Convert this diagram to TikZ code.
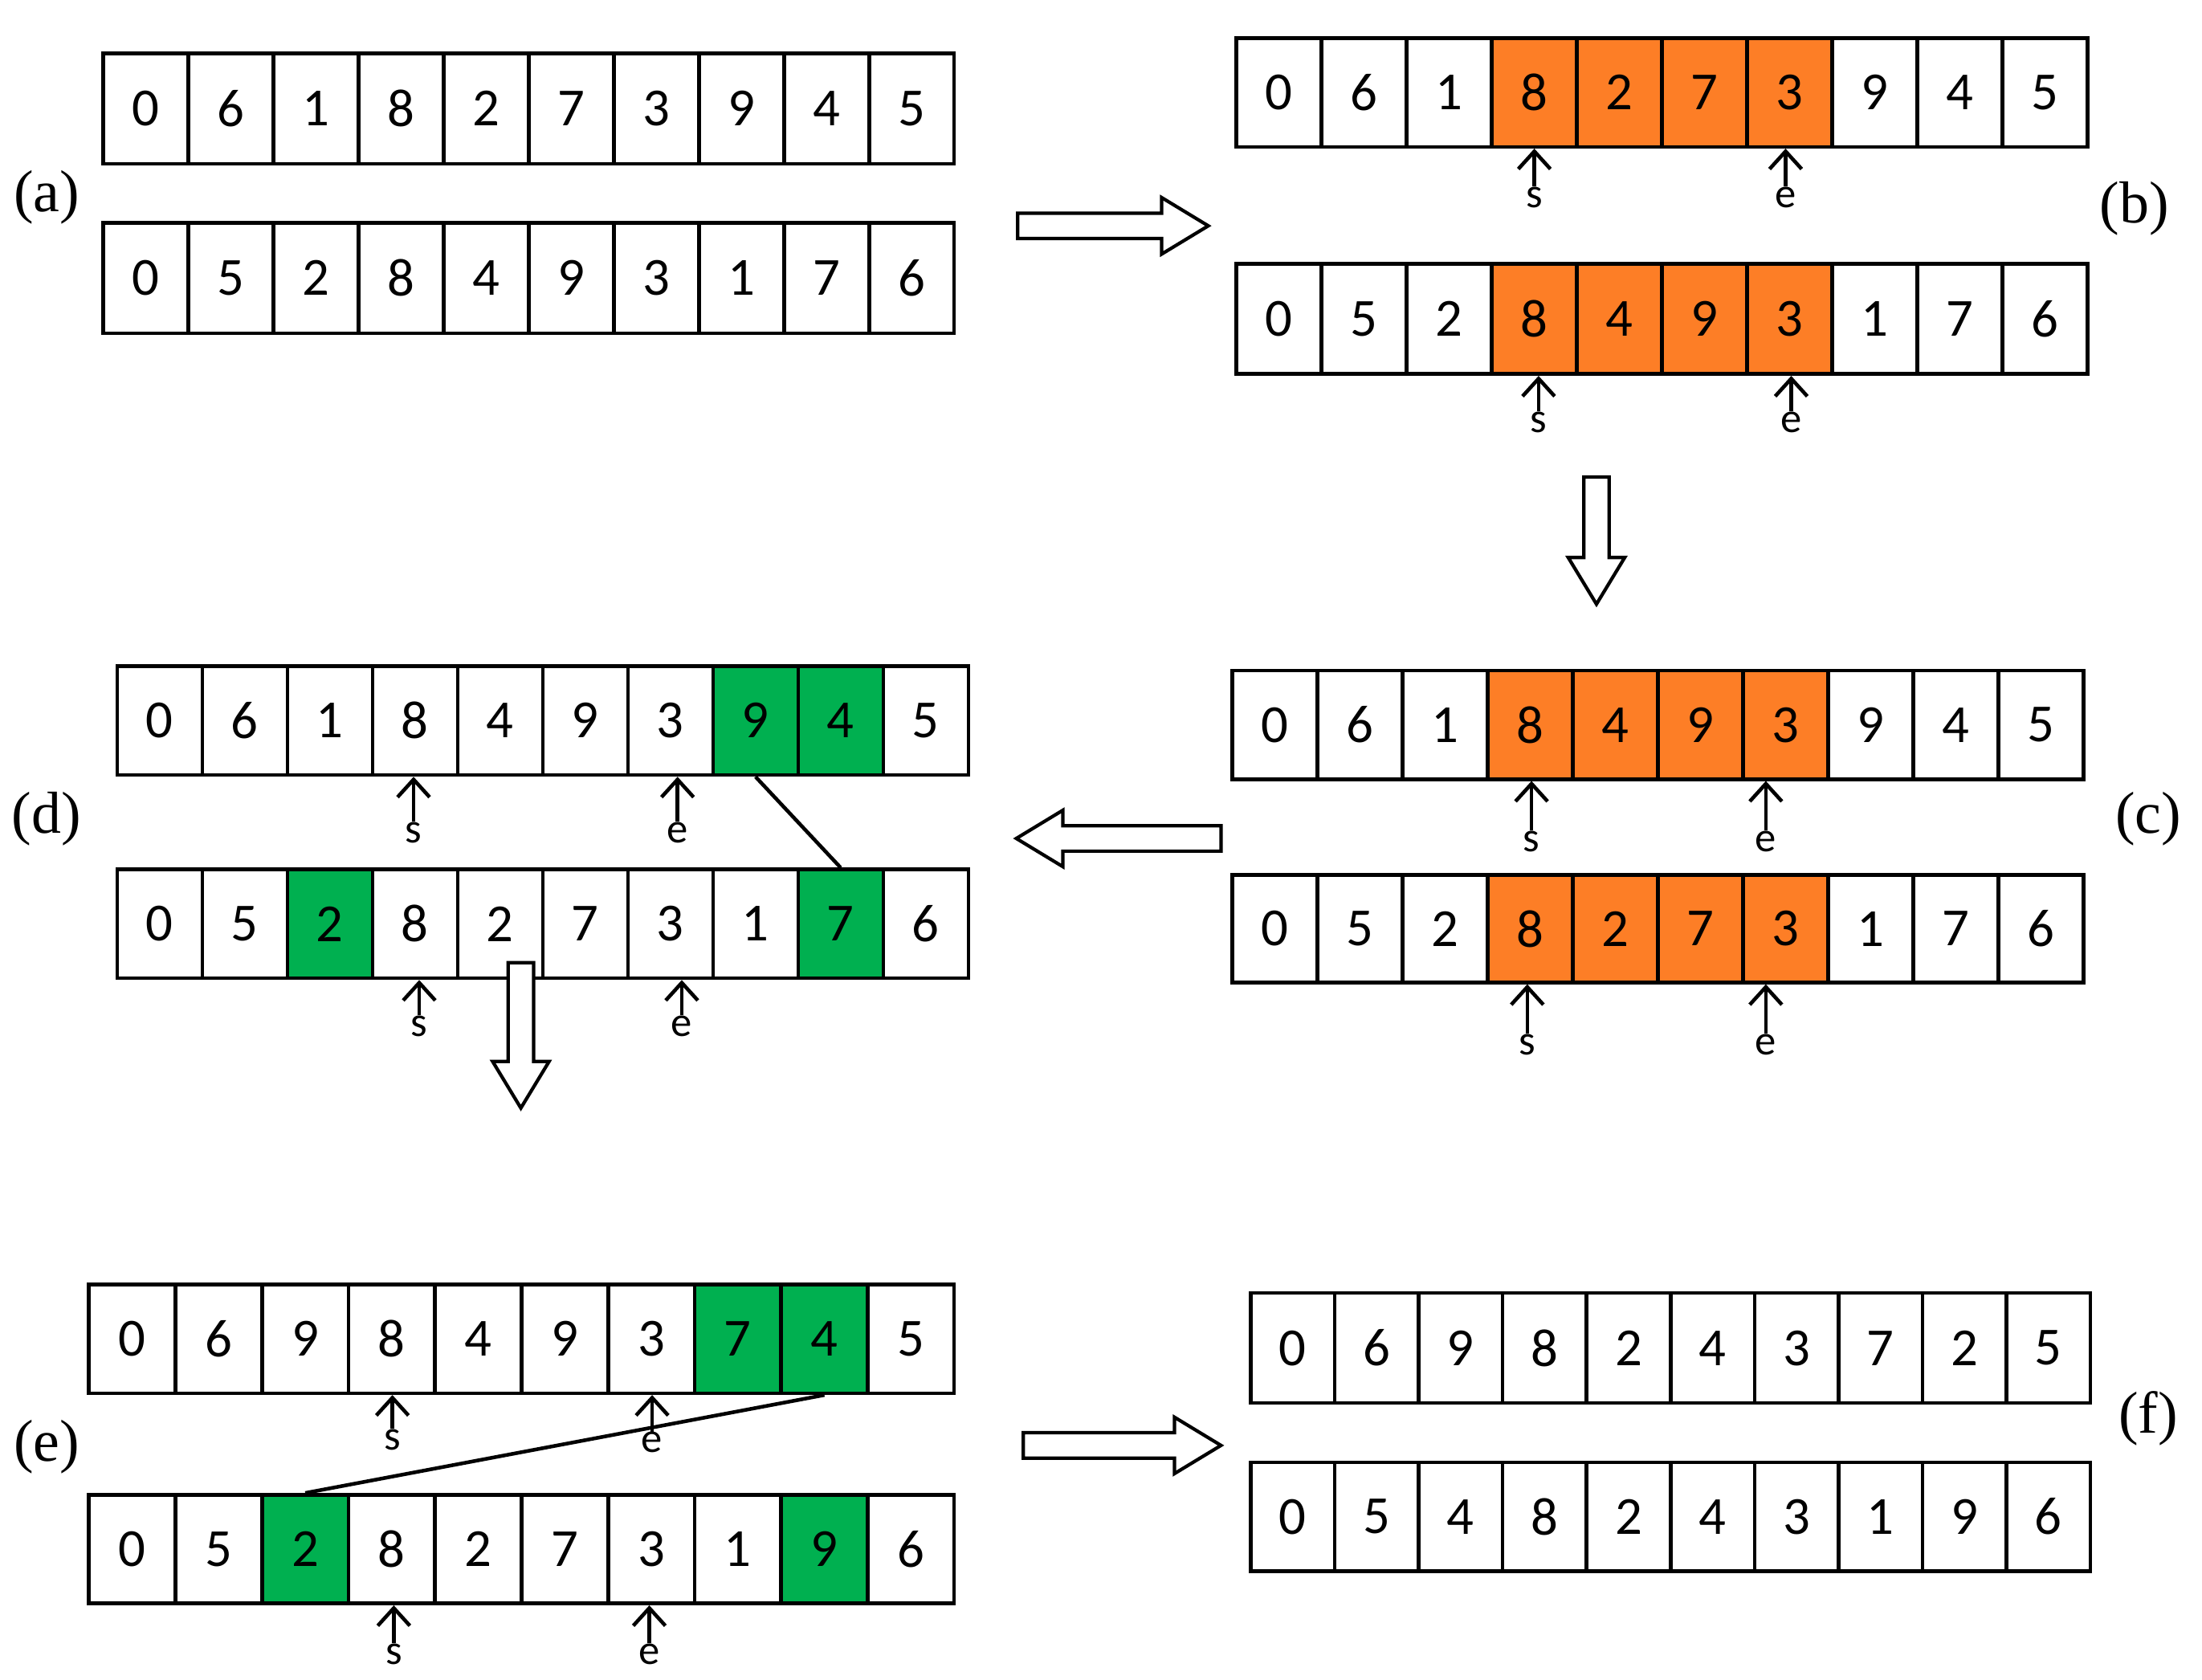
\documentclass[tikz,border=0pt]{standalone}
\usepackage{fontspec}
\usetikzlibrary{arrows.meta}
\setmainfont{Liberation Serif}
\newfontfamily\digf{Carlito}
\definecolor{org}{HTML}{FD7E26}
\definecolor{grn}{HTML}{00B050}
\tikzset{
 cellst/.style={draw,line width=1.3pt,inner sep=0pt,font=\digf\fontsize{19}{19}\selectfont},
 se/.style={font=\digf\fontsize{15}{15}\selectfont,inner sep=0pt,anchor=center},
 pt/.style={line width=1.3pt,-{Straight Barb[length=2.2mm,width=4mm]}},
 big/.style={draw,line width=1.2pt,fill=white},
 lab/.style={font=\fontsize{21}{21}\selectfont,inner sep=0pt}
}
\newcommand\cellrow[6]{%
 \pgfmathsetmacro\cw{(#3-#2)/10}\pgfmathsetmacro\ch{#5-#4}%
 \foreach \d [count=\i from 0] in {#6}{%
  \node[cellst,minimum width={\cw*0.1758mm},minimum height={\ch*0.1758mm}] (#1-\i) at ({#2+(\i+0.5)*\cw},{(#4+#5)/2}) {\d};}}
\newcommand\hl[6]{%
 \pgfmathsetmacro\cw{(#2-#1)/10}\pgfmathsetmacro\ch{#4-#3}%
 \foreach \k in {#5}{\fill[#6] ({#1+\k*\cw},#3) rectangle ++(\cw,\ch);}}
\newcommand\harrow[4]{%
 \draw[big,shift={(#1,#2)},rotate=#4] (0,-9)--(#3-33,-9)--(#3-33,-20)--(#3,0)--(#3-33,20)--(#3-33,9)--(0,9)--cycle;}
\begin{document}
\begin{tikzpicture}[x=0.1758mm,y=-0.1758mm]
\useasboundingbox (0,0) rectangle (1560,1190);
% (a)
\cellrow{at}{73}{676}{38}{116}{0,6,1,8,2,7,3,9,4,5}
\cellrow{ab}{73}{676}{158}{236}{0,5,2,8,4,9,3,1,7,6}
\node[lab] (la) at (33,140) {(a)};
% (b)
\hl{876}{1479}{27}{104}{3,4,5,6}{org}
\hl{876}{1479}{187}{265}{3,4,5,6}{org}
\cellrow{bt}{876}{1479}{27}{104}{0,6,1,8,2,7,3,9,4,5}
\cellrow{bb}{876}{1479}{187}{265}{0,5,2,8,4,9,3,1,7,6}
\node[lab] (lb) at (1512,148) {(b)};
\node[se] (bs1) at (1087,140) {s}; \draw[pt] (bs1.north) -- (bs1.north |- bt-0.south);
\node[se] (be1) at (1265,140) {e}; \draw[pt] (be1.north) -- (be1.north |- bt-0.south);
\node[se] (bs2) at (1090,299) {s}; \draw[pt] (bs2.north) -- (bs2.north |- bb-0.south);
\node[se] (be2) at (1269,299) {e}; \draw[pt] (be2.north) -- (be2.north |- bb-0.south);
% (c)
\hl{873}{1476}{475}{552}{3,4,5,6}{org}
\hl{873}{1476}{620}{696}{3,4,5,6}{org}
\cellrow{ct}{873}{1476}{475}{552}{0,6,1,8,4,9,3,9,4,5}
\cellrow{cb}{873}{1476}{620}{696}{0,5,2,8,2,7,3,1,7,6}
\node[lab] (lc) at (1522,580) {(c)};
\node[se] (cs1) at (1085,596) {s}; \draw[pt] (cs1.north) -- (cs1.north |- ct-0.south);
\node[se] (ce1) at (1251,596) {e}; \draw[pt] (ce1.north) -- (ce1.north |- ct-0.south);
\node[se] (cs2) at (1082,740) {s}; \draw[pt] (cs2.north) -- (cs2.north |- cb-0.south);
\node[se] (ce2) at (1251,740) {e}; \draw[pt] (ce2.north) -- (ce2.north |- cb-0.south);
% (d)
\hl{83}{686}{472}{549}{7,8}{grn}
\hl{83}{686}{616}{693}{2,8}{grn}
\cellrow{dt}{83}{686}{472}{549}{0,6,1,8,4,9,3,9,4,5}
\cellrow{db}{83}{686}{616}{693}{0,5,2,8,2,7,3,1,7,6}
\node[lab] (ld) at (33,580) {(d)};
\draw[line width=1.3pt] (dt-7.south) -- (db-8.north);
\node[se] (ds1) at (293,590) {s}; \draw[pt] (ds1.north) -- (ds1.north |- dt-0.south);
\node[se] (de1) at (480,590) {e}; \draw[pt] (de1.north) -- (de1.north |- dt-0.south);
\node[se] (ds2) at (297,727) {s}; \draw[pt] (ds2.north) -- (ds2.north |- db-0.south);
\node[se] (de2) at (483,727) {e}; \draw[pt] (de2.north) -- (de2.north |- db-0.south);
% (e)
\hl{63}{676}{910}{987}{7,8}{grn}
\hl{63}{676}{1059}{1136}{2,8}{grn}
\cellrow{et}{63}{676}{910}{987}{0,6,9,8,4,9,3,7,4,5}
\cellrow{eb}{63}{676}{1059}{1136}{0,5,2,8,2,7,3,1,9,6}
\node[lab] (le) at (33,1025) {(e)};
\draw[line width=1.3pt] (et-8.south) -- (eb-2.north);
\node[se] (es1) at (278,1020) {s}; \draw[pt] (es1.north) -- (es1.north |- et-0.south);
\node[se] (ee1) at (462,1022) {e}; \draw[pt] (ee1.north) -- (ee1.north |- et-0.south);
\node[se] (es2) at (279,1172) {s}; \draw[pt] (es2.north) -- (es2.north |- eb-0.south);
\node[se] (ee2) at (460,1172) {e}; \draw[pt] (ee2.north) -- (ee2.north |- eb-0.south);
% (f)
\cellrow{ft}{886}{1481}{916}{994}{0,6,9,8,2,4,3,7,2,5}
\cellrow{fb}{886}{1481}{1036}{1113}{0,5,4,8,2,4,3,1,9,6}
\node[lab] (lf) at (1522,1005) {(f)};
% big arrows
\harrow{721}{160}{135}{0}
\harrow{1131}{338}{90}{-90}
\harrow{865}{594}{145}{180}
\harrow{369}{682}{103}{-90}
\harrow{725}{1024}{140}{0}
\end{tikzpicture}
\end{document}
